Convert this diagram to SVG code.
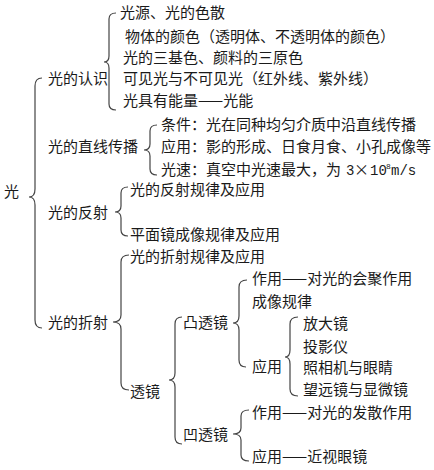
<svg xmlns="http://www.w3.org/2000/svg" width="434" height="470" viewBox="0 0 434 470">
<style>
text{font-family:"Noto Sans CJK SC","Noto Sans CJK TC",sans-serif;font-size:15px;fill:#1a1a1a}
.b{fill:none;stroke:#444;stroke-width:1.2}
.m{font-family:"Liberation Mono",monospace;font-size:14px}
.s{font-family:"Liberation Mono",monospace;font-size:8px}
</style>
<rect width="434" height="470" fill="#fff"/>
<g id="connectors">
<path class="b" d="M42,78 Q35,78 35,86 L35,189 Q35,197 29,197 Q35,197 35,205 L35,320 Q35,328 42,328"/>
<path class="b" d="M116,13 Q109,13 109,19 L109,56 Q109,62 104,62 Q109,62 109,68 L109,104 Q109,110 116,110"/>
<path class="b" d="M157,125 Q150,125 150,131 L150,144 Q150,150 144,150 Q150,150 150,156 L150,169 Q150,175 157,175"/>
<path class="b" d="M128,187 Q121,187 121,193 L121,206 Q121,212 115,212 Q121,212 121,218 L121,230 Q121,236 128,236"/>
<path class="b" d="M129,255 Q121,255 121,262 L121,315 Q121,322 113,322 Q121,322 121,329 L121,383 Q121,390 129,390"/>
<path class="b" d="M182,317 Q175,317 175,324 L175,373 Q175,380 169,380 Q175,380 175,387 L175,437 Q175,444 182,444"/>
<path class="b" d="M247,280 Q239,280 239,287 L239,316 Q239,323 233,323 Q239,323 239,330 L239,360 Q239,367 246,367"/>
<path class="b" d="M298,317 Q290,317 290,324 L290,350 Q290,357 285,357 Q290,357 290,364 L290,389 Q290,396 298,396"/>
<path class="b" d="M249,410 Q241,410 241,416 L241,428 Q241,434 233,434 Q241,434 241,440 L241,455 Q241,461 249,461"/>
</g>
<g id="root"><text x="4" y="197">光</text></g>
<g id="n1"><text x="48" y="84">光的认识</text></g>
<g id="n1a"><text x="120" y="18">光源、光的色散</text></g>
<g id="n1b"><text x="125" y="42">物体的颜色（透明体、不透明体的颜色）</text></g>
<g id="n1c"><text x="123" y="63">光的三基色、颜料的三原色</text></g>
<g id="n1d"><text x="123" y="84">可见光与不可见光（红外线、紫外线）</text></g>
<g id="n1e"><text x="123" y="106">光具有能量——光能</text></g>
<g id="n2"><text x="48" y="152">光的直线传播</text></g>
<g id="n2a"><text x="161" y="130">条件：光在同种均匀介质中沿直线传播</text></g>
<g id="n2b"><text x="161" y="152">应用：影的形成、日食月食、小孔成像等</text></g>
<g id="n2c"><text x="161" y="175">光速：真空中光速最大，为<tspan class="m" x="346">3</tspan><tspan x="354">×</tspan><tspan class="m" x="370">10</tspan><tspan class="s" x="386" dy="-6">8</tspan><tspan class="m" x="391" dy="6">m/s</tspan></text></g>
<g id="n3"><text x="48" y="218">光的反射</text></g>
<g id="n3a"><text x="130" y="195">光的反射规律及应用</text></g>
<g id="n3b"><text x="130" y="240">平面镜成像规律及应用</text></g>
<g id="n4"><text x="48" y="328">光的折射</text></g>
<g id="n4a"><text x="130" y="262">光的折射规律及应用</text></g>
<g id="n4b"><text x="130" y="397">透镜</text></g>
<g id="n5"><text x="183" y="328">凸透镜</text></g>
<g id="n5a"><text x="252" y="284">作用——对光的会聚作用</text></g>
<g id="n5b"><text x="252" y="307">成像规律</text></g>
<g id="n5c"><text x="252" y="372">应用</text></g>
<g id="n5c1"><text x="303" y="329">放大镜</text></g>
<g id="n5c2"><text x="303" y="352">投影仪</text></g>
<g id="n5c3"><text x="303" y="373">照相机与眼睛</text></g>
<g id="n5c4"><text x="303" y="395">望远镜与显微镜</text></g>
<g id="n6"><text x="183" y="440">凹透镜</text></g>
<g id="n6a"><text x="252" y="418">作用——对光的发散作用</text></g>
<g id="n6b"><text x="252" y="462">应用——近视眼镜</text></g>
</svg>
